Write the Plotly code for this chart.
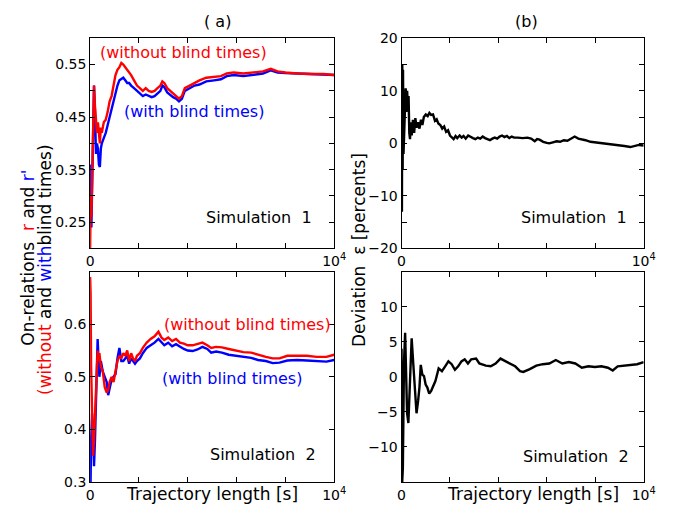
import plotly.graph_objects as go

# ---------------- Panel (a), Simulation 1 ----------------
t_a1 = [0, 28, 52, 80, 120, 160, 200, 240, 280, 320, 360, 400, 440, 480, 560, 640, 720, 800, 880, 960,
        1040, 1120, 1200, 1280, 1360, 1440, 1520, 1600, 1680, 1800, 1920, 2040, 2160, 2280, 2400, 2520,
        2640, 2760, 2880, 2960, 3040, 3160, 3280, 3400, 3520, 3640, 3760, 3880, 4080, 4280, 4480, 4760,
        5080, 5360, 5600, 5880, 6280, 6680, 7080, 7400, 7680, 8000, 8480, 9080, 9560, 10000]
r_without_1 = [0.20, 0.30, 0.26, 0.33, 0.45, 0.51, 0.47, 0.43, 0.42, 0.44, 0.41, 0.40, 0.43, 0.42, 0.44,
               0.445, 0.46, 0.48, 0.49, 0.51, 0.53, 0.54, 0.545, 0.553, 0.55, 0.545, 0.54, 0.535, 0.53,
               0.52, 0.51, 0.505, 0.50, 0.505, 0.50, 0.498, 0.50, 0.505, 0.51, 0.518, 0.515, 0.505, 0.50,
               0.495, 0.49, 0.485, 0.49, 0.505, 0.51, 0.515, 0.52, 0.525, 0.527, 0.528, 0.533, 0.535,
               0.533, 0.535, 0.537, 0.542, 0.537, 0.535, 0.533, 0.532, 0.532, 0.530]
r_with_1 = [0.25, 0.36, 0.24, 0.30, 0.42, 0.51, 0.46, 0.38, 0.40, 0.39, 0.36, 0.355, 0.39, 0.40, 0.41,
            0.42, 0.435, 0.45, 0.465, 0.48, 0.50, 0.51, 0.52, 0.523, 0.525, 0.52, 0.515, 0.515, 0.51,
            0.505, 0.50, 0.495, 0.49, 0.493, 0.49, 0.488, 0.49, 0.495, 0.50, 0.51, 0.507, 0.497, 0.492,
            0.488, 0.485, 0.48, 0.485, 0.50, 0.505, 0.51, 0.512, 0.518, 0.52, 0.522, 0.528, 0.53,
            0.528, 0.531, 0.533, 0.539, 0.535, 0.534, 0.533, 0.533, 0.532, 0.530]

# ---------------- Panel (a), Simulation 2 ----------------
t_a2 = [0, 20, 40, 80, 120, 160, 200, 240, 280, 308, 340, 380, 440, 520, 600, 680, 740, 800, 880, 960,
        1040, 1120, 1200, 1280, 1360, 1440, 1520, 1600, 1680, 1760, 1840, 1920, 2040, 2160, 2320, 2480,
        2640, 2800, 2920, 3040, 3200, 3360, 3520, 3680, 3840, 4000, 4200, 4400, 4600, 4800, 4960, 5160,
        5400, 5680, 5960, 6280, 6600, 6880, 7200, 7480, 7760, 8080, 8480, 8880, 9280, 9680, 10000]
r_without_2 = [0.69, 0.66, 0.52, 0.42, 0.35, 0.38, 0.43, 0.50, 0.54, 0.55,
               0.53, 0.545, 0.52, 0.51, 0.48, 0.47, 0.475, 0.49, 0.50, 0.49,
               0.51, 0.53, 0.54, 0.535, 0.545, 0.54, 0.55, 0.53, 0.545, 0.535,
               0.53, 0.54, 0.545, 0.555, 0.565, 0.572, 0.577, 0.586, 0.575, 0.57,
               0.575, 0.568, 0.572, 0.565, 0.563, 0.56, 0.56, 0.562, 0.565, 0.56,
               0.555, 0.557, 0.556, 0.553, 0.55, 0.547, 0.546, 0.542, 0.538, 0.535,
               0.535, 0.54, 0.54, 0.54, 0.538, 0.538, 0.542]
r_with_2 = [0.36, 0.30, 0.38, 0.43, 0.40, 0.33, 0.38, 0.47, 0.55, 0.572,
            0.54, 0.50, 0.53, 0.51, 0.50, 0.49, 0.465, 0.48, 0.495, 0.50,
            0.505, 0.535, 0.555, 0.53, 0.53, 0.535, 0.54, 0.525, 0.535, 0.53,
            0.525, 0.53, 0.535, 0.545, 0.555, 0.56, 0.565, 0.572, 0.565, 0.56,
            0.565, 0.558, 0.562, 0.557, 0.553, 0.55, 0.549, 0.552, 0.557, 0.553,
            0.546, 0.548, 0.546, 0.542, 0.54, 0.538, 0.536, 0.532, 0.530, 0.526,
            0.527, 0.531, 0.532, 0.531, 0.530, 0.529, 0.532]

# ---------------- Panel (b), Simulation 1 ----------------
t_b1 = [0, 15, 30, 45, 60, 80, 110, 140, 170, 200, 230, 260, 290, 320, 350, 380, 420, 470, 520, 570,
        620, 680, 740, 800, 860, 920, 1000, 1080, 1150, 1220, 1300, 1380, 1450, 1520, 1600, 1680, 1760,
        1840, 1920, 2000, 2080, 2150, 2230, 2300, 2400, 2480, 2560, 2650, 2750, 2850, 2950, 3050, 3150,
        3250, 3350, 3450, 3550, 3650, 3750, 3850, 3950, 4050, 4150, 4250, 4350, 4450, 4550, 4650, 4800,
        5000, 5200, 5350, 5500, 5600, 5700, 5850, 6000, 6100, 6250, 6400, 6550, 6700, 6850, 7000, 7150,
        7300, 7450, 7600, 7800, 8000, 8250, 8500, 8800, 9000, 9200, 9450, 9600, 9800, 10000]
eps_b1 = [0, -13, 15, -5, 14, -2, 2, 8, 10.5, 6, 10, 7, 9, 2, 0.8, 4, 1.5, 4.5, 2, 4.8,
          3, 4, 2.8, 4.5, 3.5, 5, 5.5, 5.2, 5.8, 5.4, 5.5, 4.3, 4.6, 3.8, 3.5, 2.8, 3.2, 2.2, 2.5, 1.5,
          1.2, 0.8, 1.4, 1.0, 1.5, 1.1, 1.4, 0.9, 1.5, 1.2, 1.0, 0.8, 1.1, 0.9, 1.3, 1.0, 0.8, 0.6, 0.9, 1.1,
          0.9, 1.3, 1.5, 1.2, 1.4, 1.0, 1.3, 1.1, 1.1, 1.0, 1.1, 0.9, 0.4, 0.8, 0.7, 0.3, 0.1, 0, 0.2, 0.4,
          0.3, 0.6, 0.5, 0.9, 1.3, 0.9, 0.8, 0.6, 0.3, 0.2, 0, -0.1, -0.2, -0.3, -0.5, -0.7, -0.5, -0.3, -0.4]

# ---------------- Panel (b), Simulation 2 ----------------
t_b2 = [0, 13, 54, 100, 148, 202, 228, 282, 323, 363, 417, 470, 524, 578, 618, 685, 739, 793, 860, 927,
        995, 1062, 1142, 1223, 1304, 1398, 1532, 1667, 1801, 1935, 2070, 2204, 2339, 2473, 2608, 2742,
        2876, 3078, 3212, 3347, 3481, 3683, 3884, 4086, 4288, 4489, 4691, 4892, 5027, 5296, 5565, 5833,
        6102, 6371, 6640, 6909, 7177, 7446, 7715, 7984, 8253, 8522, 8723, 8925, 9194, 9462, 9731, 10000]
eps_b2 = [4, -16, -13, 2, 6.3, -0.6, -5.2, -6.6, -2.4, 2.2, 5.5, 2.6, -0.1, -3.8, -5.2, -3.4, -1.5, 1.7,
          0.3, 0.1, -1.1, -1.5, -2.4, -2.0, -1.3, -0.6, 1.2, 0.8, 1.5, 2.2, 1.8, 1.0, 1.5, 2.2, 2.5, 1.9,
          2.5, 2.6, 1.9, 1.7, 1.6, 1.5, 1.9, 2.6, 2.2, 1.9, 1.5, 0.8, 0.7, 1.1, 1.6, 1.8, 1.9, 2.4, 1.9,
          2.1, 1.9, 1.3, 1.5, 1.4, 1.5, 1.3, 0.9, 1.5, 1.6, 1.7, 1.8, 2.1]

# tick definitions (labelled ticks + unlabelled minor ticks)
x_ticks = [0, 10000]
x_ticktext = ["0", "10<sup>4</sup>"]
x_minor = [2000, 4000, 6000, 8000]
ya1_ticks = [0.25, 0.35, 0.45, 0.55]
ya1_minor = [0.3, 0.4, 0.5]
ya2_ticks = [0.3, 0.4, 0.5, 0.6]
ya2_minor = [0.7]
yb1_ticks = [-20, -10, 0, 10, 20]
yb1_text = ["\u221220", "\u221210", "0", "10", "20"]
yb1_minor = [-15, -5, 5, 15]
yb2_ticks = [-10, -5, 0, 5, 10]
yb2_text = ["\u221210", "\u22125", "0", "5", "10"]

RED = "#ff0000"
BLUE = "#0000ff"
FONT = "DejaVu Sans"
PAGE_W, PAGE_H = 684, 518
OFF = 8  # default page body margin
W, H = PAGE_W - OFF, PAGE_H - OFF

fig = go.Figure()
lw = 2.4
fig.add_trace(go.Scatter(x=t_a1, y=r_with_1, mode="lines", line=dict(color=BLUE, width=lw), xaxis="x", yaxis="y"))
fig.add_trace(go.Scatter(x=t_a1, y=r_without_1, mode="lines", line=dict(color=RED, width=lw), xaxis="x", yaxis="y"))
fig.add_trace(go.Scatter(x=t_b1, y=eps_b1, mode="lines", line=dict(color="black", width=lw), xaxis="x2", yaxis="y2"))
fig.add_trace(go.Scatter(x=t_a2, y=r_with_2, mode="lines", line=dict(color=BLUE, width=lw), xaxis="x3", yaxis="y3"))
fig.add_trace(go.Scatter(x=t_a2, y=r_without_2, mode="lines", line=dict(color=RED, width=lw), xaxis="x3", yaxis="y3"))
fig.add_trace(go.Scatter(x=t_b2, y=eps_b2, mode="lines", line=dict(color="black", width=lw), xaxis="x4", yaxis="y4"))


def px_x(p):
    return (p - OFF) / W


def px_y(p):
    return 1 - (p - OFF) / H


left_dom = [px_x(88), px_x(338)]
right_dom = [px_x(407), px_x(655)]
top_dom = [px_y(248), px_y(31)]
bot_dom = [px_y(489), px_y(272)]

common = dict(showline=True, mirror="ticks", linecolor="black", linewidth=1, ticks="inside",
              ticklen=5, tickcolor="black", tickwidth=1, showgrid=False, zeroline=False,
              tickfont=dict(family=FONT, size=14, color="black"))


def minor(vals):
    return dict(tickmode="array", tickvals=vals, ticks="inside", ticklen=5,
                tickcolor="black", tickwidth=1, showgrid=False)


def xax(dom, anchor):
    return dict(domain=dom, anchor=anchor, range=[0, 10000], tickmode="array",
                tickvals=x_ticks, ticktext=x_ticktext, minor=minor(x_minor), **common)


def yax(dom, anchor, rng, tv, tt, mv):
    d = dict(domain=dom, anchor=anchor, range=rng, tickmode="array", tickvals=tv,
             minor=minor(mv), **common)
    if tt is not None:
        d["ticktext"] = tt
    return d


ann = []


def add_text(text, x, y, size=16, color="black", angle=0):
    ann.append(dict(text=text, x=px_x(x), y=px_y(y), xref="paper", yref="paper", showarrow=False,
                    xanchor="center", yanchor="middle", textangle=angle,
                    font=dict(family=FONT, size=size, color=color)))


add_text("(&nbsp;a)", 218, 14, 16)
add_text("(b)", 535, 14, 16)
add_text("(without blind times)", 184, 46, 16, RED)
add_text("(with blind times)", 194, 107, 16, BLUE)
add_text("Simulation&nbsp;&nbsp;1", 261, 216, 16)
add_text("(without blind times)", 249, 326, 16, RED)
add_text("(with blind times)", 233, 382, 16, BLUE)
add_text("Simulation&nbsp;&nbsp;2", 265, 461, 16)
add_text("Simulation&nbsp;&nbsp;1", 584, 216, 16)
add_text("Simulation&nbsp;&nbsp;2", 586, 463, 16)
add_text("Trajectory length [s]", 213, 501, 17)
add_text("Trajectory length [s]", 542, 501, 17)
add_text("On-relations&nbsp;&nbsp;<span style='color:#ff0000'>r</span> and <span style='color:#0000ff'>r'</span>",
         25, 258, 17, angle=-90)
add_text("<span style='color:#ff0000'>(without</span> and <span style='color:#0000ff'>with</span>blind times)",
         42, 270, 17, angle=-90)
add_text("Deviation&nbsp;&nbsp;\u03b5 [percents]", 364, 250, 17, angle=-90)

fig.update_layout(
    width=W, height=H,
    margin=dict(l=0, r=0, t=0, b=0),
    paper_bgcolor="white", plot_bgcolor="white",
    showlegend=False,
    font=dict(family=FONT, color="black"),
    xaxis=xax(left_dom, "y"),
    yaxis=yax(top_dom, "x", [0.2, 0.6], ya1_ticks, None, ya1_minor),
    xaxis2=xax(right_dom, "y2"),
    yaxis2=yax(top_dom, "x2", [-20, 20], yb1_ticks, yb1_text, yb1_minor),
    xaxis3=xax(left_dom, "y3"),
    yaxis3=yax(bot_dom, "x3", [0.3, 0.7], ya2_ticks, None, ya2_minor),
    xaxis4=xax(right_dom, "y4"),
    yaxis4=yax(bot_dom, "x4", [-15, 15], yb2_ticks, yb2_text, []),
    annotations=ann,
)

fig.write_html("out.html")
